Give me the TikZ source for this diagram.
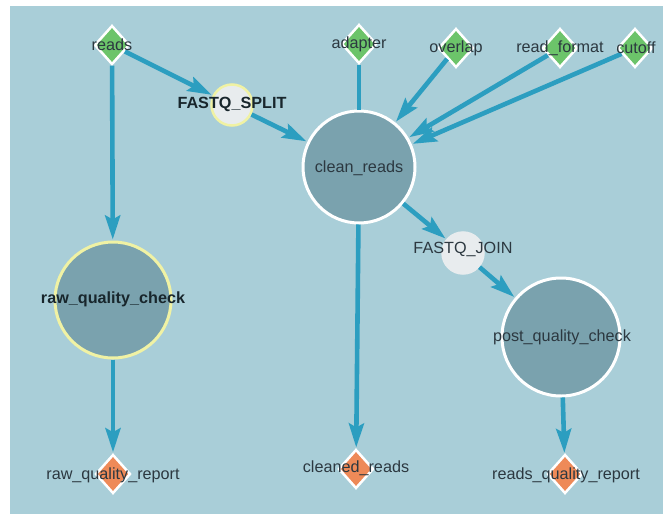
\documentclass[tikz,border=0pt]{standalone}
\usepackage{fontspec}
\setmainfont{Liberation Sans}
\usetikzlibrary{shapes.geometric,arrows.meta}
\definecolor{bgblue}{HTML}{A9CED8}
\definecolor{procfill}{HTML}{7AA2AE}
\definecolor{edgeblue}{HTML}{2C9EC0}
\definecolor{ingreen}{HTML}{6CC46A}
\definecolor{outorange}{HTML}{EE8A58}
\definecolor{hiyellow}{HTML}{F0F2A4}
\definecolor{smallfill}{HTML}{E8ECEE}
\definecolor{txt}{HTML}{2C3840}
\definecolor{boldtxt}{HTML}{18262C}
\tikzset{
  proc/.style={circle,fill=procfill,draw=white,line width=3pt,inner sep=0pt,minimum size=#1},
  hiproc/.style={circle,fill=procfill,draw=hiyellow,line width=3pt,inner sep=0pt,minimum size=#1},
  joinnode/.style={circle,fill=smallfill,draw=#1,line width=2.5pt,inner sep=0pt,minimum size=41pt},
  inputd/.style={diamond,fill=ingreen,draw=white,line width=2.5pt,inner sep=0pt,minimum width=35pt,minimum height=39pt},
  outputd/.style={diamond,fill=outorange,draw=white,line width=2.5pt,inner sep=0pt,minimum width=35pt,minimum height=39pt},
  lbl/.style={text=txt,font=\fontsize{16.2}{19}\selectfont,inner sep=0pt},
  blbl/.style={text=boldtxt,font=\fontsize{16.2}{19}\selectfont\bfseries,inner sep=0pt},
  conn/.style={draw=edgeblue,line width=4.6pt,-{Stealth[length=24pt,width=15pt,inset=4pt]},shorten >=1pt},
  plainconn/.style={draw=edgeblue,line width=4.6pt}
}
\begin{document}
\begin{tikzpicture}[x=1pt,y=-1pt]
\fill[white] (0,0) rectangle (663,514);
\fill[bgblue] (10,6) rectangle (663,514);
\useasboundingbox (0,0) rectangle (663,514);

% nodes
\node[inputd] (reads) at (112,45) {};
\node[inputd] (adapter) at (359,44) {};
\node[inputd] (overlap) at (456,48) {};
\node[inputd] (readformat) at (560,48) {};
\node[inputd] (cutoff) at (635,48) {};
\node[joinnode=hiyellow] (split) at (232,105) {};
\node[proc=112pt] (clean) at (359,167) {};
\node[joinnode=smallfill] (join) at (463,253) {};
\node[hiproc=116pt] (raw) at (113,300) {};
\node[proc=118pt] (post) at (561,337) {};
\node[outputd] (rawrep) at (113,474) {};
\node[outputd] (cleaned) at (356,469) {};
\node[outputd] (readsrep) at (565,474) {};

% connectors
\draw[conn] (reads) -- (raw);
\draw[conn] (reads) -- (split);
\draw[conn] (split) -- (clean);
\draw[plainconn] (adapter) -- (clean);
\draw[conn] (overlap) -- (clean);
\draw[conn] (readformat) -- (clean);
\draw[conn] (cutoff) -- (clean);
\draw[conn] (clean) -- (join);
\draw[conn] (join) -- (post);
\draw[conn] (clean) -- (cleaned);
\draw[conn] (raw) -- (rawrep);
\draw[conn] (post) -- (readsrep);

% labels
\node[lbl] (t-reads) at (112,45) {reads};
\node[lbl] (t-adapter) at (359,44) {adapter};
\node[lbl] (t-overlap) at (456,48) {overlap};
\node[lbl] (t-readformat) at (560,48) {read\_format};
\node[lbl] (t-cutoff) at (636,48) {cutoff};
\node[blbl] (t-split) at (232,104) {FASTQ\_SPLIT};
\node[lbl] (t-clean) at (359,168) {clean\_reads};
\node[lbl] (t-join) at (463,249) {FASTQ\_JOIN};
\node[blbl] (t-raw) at (113,299) {raw\_quality\_check};
\node[lbl] (t-post) at (562,337) {post\_quality\_check};
\node[lbl] (t-rawrep) at (113,475) {raw\_quality\_report};
\node[lbl] (t-cleaned) at (356,468) {cleaned\_reads};
\node[lbl] (t-readsrep) at (566,475) {reads\_quality\_report};
\end{tikzpicture}
\end{document}
